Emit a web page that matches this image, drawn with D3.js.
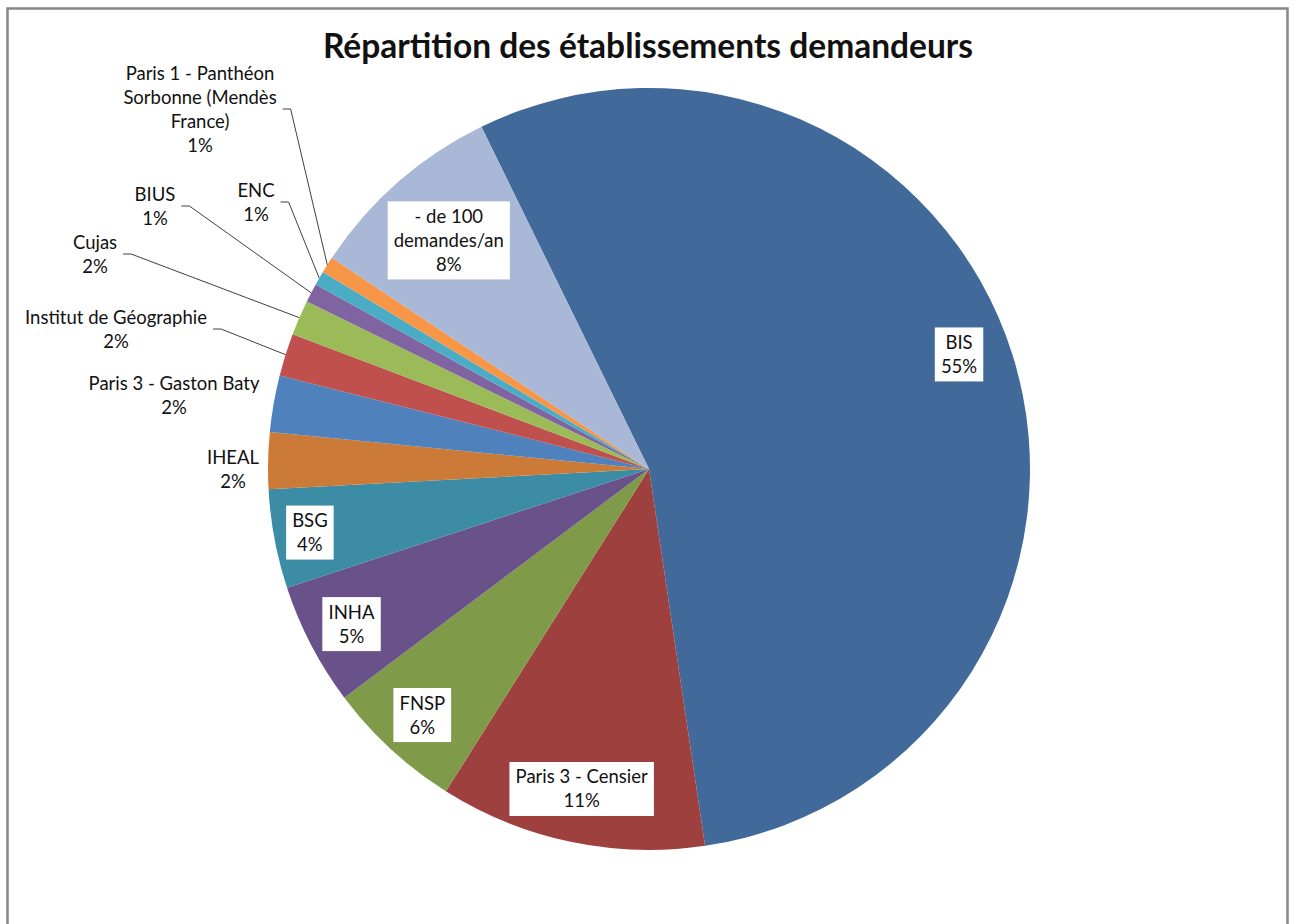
<!DOCTYPE html>
<html>
<head>
<meta charset="utf-8">
<script src="https://cdn.jsdelivr.net/npm/d3@7/dist/d3.min.js"></script>
<style>
body{margin:0;background:#fff;}
text{font-family:Lato,"Open Sans",sans-serif;fill:#111;}
</style>
</head>
<body>
<svg id="chart" width="1295" height="924"></svg>
<script>
// categories, clockwise from the top of the pie
var names=["BIS","Paris 3 - Censier","FNSP","INHA","BSG","IHEAL","Paris 3 - Gaston Baty",
    "Institut de Géographie","Cujas","BIUS","ENC","Paris 1 - Panthéon\nSorbonne (Mendès\nFrance)","- de 100\ndemandes/an"];
// demandes (estimated, total 1000)
var values=[549,113,58,52,42,24,24,18,15,8,6,7,84];
var colors=["#416a9b","#9e413e","#7f9a48","#69518a","#3b8ca4","#cb7b37","#4f81bd",
    "#c0504d","#9bbb59","#8064a2","#4bacc6","#f79646","#a9b8d7"];
var insideLabels=["BIS","Paris 3 - Censier","FNSP","INHA","BSG","- de 100\ndemandes/an"];

// where excel put the outside labels (centre of text block)
var labelAt={
    "Paris 1 - Panthéon\nSorbonne (Mendès\nFrance)":[200,109],
    "ENC":[256,202],
    "BIUS":[155,206],
    "Cujas":[95,254],
    "Institut de Géographie":[116,329],
    "Paris 3 - Gaston Baty":[174,395],
    "IHEAL":[233,469]
};

var W=1295,H=924;
var cx=649,cy=469,R=381;
var lineH=24;

var svg=d3.select('#chart');

svg.append('rect')
    .attr('x',7.5).attr('y',8.5)
    .attr('width',1280).attr('height',1000)
    .attr('fill','#fff')
    .attr('stroke','#878787')
    .attr('stroke-width',2.5);

svg.append('text')
    .attr('x',648).attr('y',58)
    .attr('text-anchor','middle')
    .style('font-size','33.5px')
    .style('font-weight','bold')
    .text("Répartition des établissements demandeurs");

var total=d3.sum(values);
var data=names.map(function(n,i){return {name:n,value:values[i],color:colors[i]};});

var start=-26.1*Math.PI/180;
var pie=d3.pie().sort(null).value(function(d){return d.value;})
    .startAngle(start).endAngle(start+2*Math.PI);
var arcs=pie(data);

var arc=d3.arc().innerRadius(0).outerRadius(R);
var edge=d3.arc().innerRadius(R).outerRadius(R);

var g=svg.append('g').attr('transform','translate('+cx+','+cy+')');

g.selectAll('path').data(arcs)
    .enter().append('path')
        .attr('d',arc)
        .attr('fill',function(d){return d.data.color;});

function pct(d){
    return Math.round(d.data.value*100/total)+"%";
}

var labels=svg.append('g');

arcs.forEach(function(d,i){
    var lines=d.data.name.split("\n").concat([pct(d)]);
    var inside=insideLabels.indexOf(d.data.name)>=0;
    var lg=labels.append('g');
    var t=lg.append('text')
        .attr('text-anchor','middle')
        .style('font-size','18.5px');
    lines.forEach(function(l,k){
        t.append('tspan')
            .attr('x',0)
            .attr('y',(k-(lines.length-1)/2)*lineH+6.5)
            .text(l);
    });
    var bb=t.node().getBBox();
    var bw=bb.width+12, bh=lines.length*lineH+6;

    if (inside){
        // push the box out along the middle of the slice until a corner nearly touches the edge
        var a=(d.startAngle+d.endAngle)/2;
        if (i==0) a-=3*Math.PI/180; // excel nudges the big one a bit
        var ux=Math.sin(a), uy=-Math.cos(a);
        var sx=(ux>=0?1:-1)*bw/2, sy=(uy>=0?1:-1)*bh/2;
        var us=ux*sx+uy*sy, ss=sx*sx+sy*sy, rt=(i==0?R-18:R-7);
        var tt=-us+Math.sqrt(us*us-ss+rt*rt);
        var px=cx+tt*ux, py=cy+tt*uy;
        lg.attr('transform','translate('+px+','+py+')');
        lg.insert('rect','text')
            .attr('x',-bw/2).attr('y',-bh/2)
            .attr('width',bw).attr('height',bh)
            .attr('fill','#fff');
    }
    else{
        var p=labelAt[d.data.name];
        lg.attr('transform','translate('+p[0]+','+p[1]+')');
        var e=edge.centroid(d);
        var ex=cx+e[0], ey=cy+e[1];
        var right=p[0]+bb.width/2;
        var dist=Math.hypot(ex-right,ey-p[1]);
        if (dist>40){
            labels.append('polyline')
                .attr('points',[[right+6,p[1]],[right+14,p[1]],[ex,ey]].join(' '))
                .attr('fill','none')
                .attr('stroke','#404040')
                .attr('stroke-width',1);
        }
    }
});
</script>
</body>
</html>
